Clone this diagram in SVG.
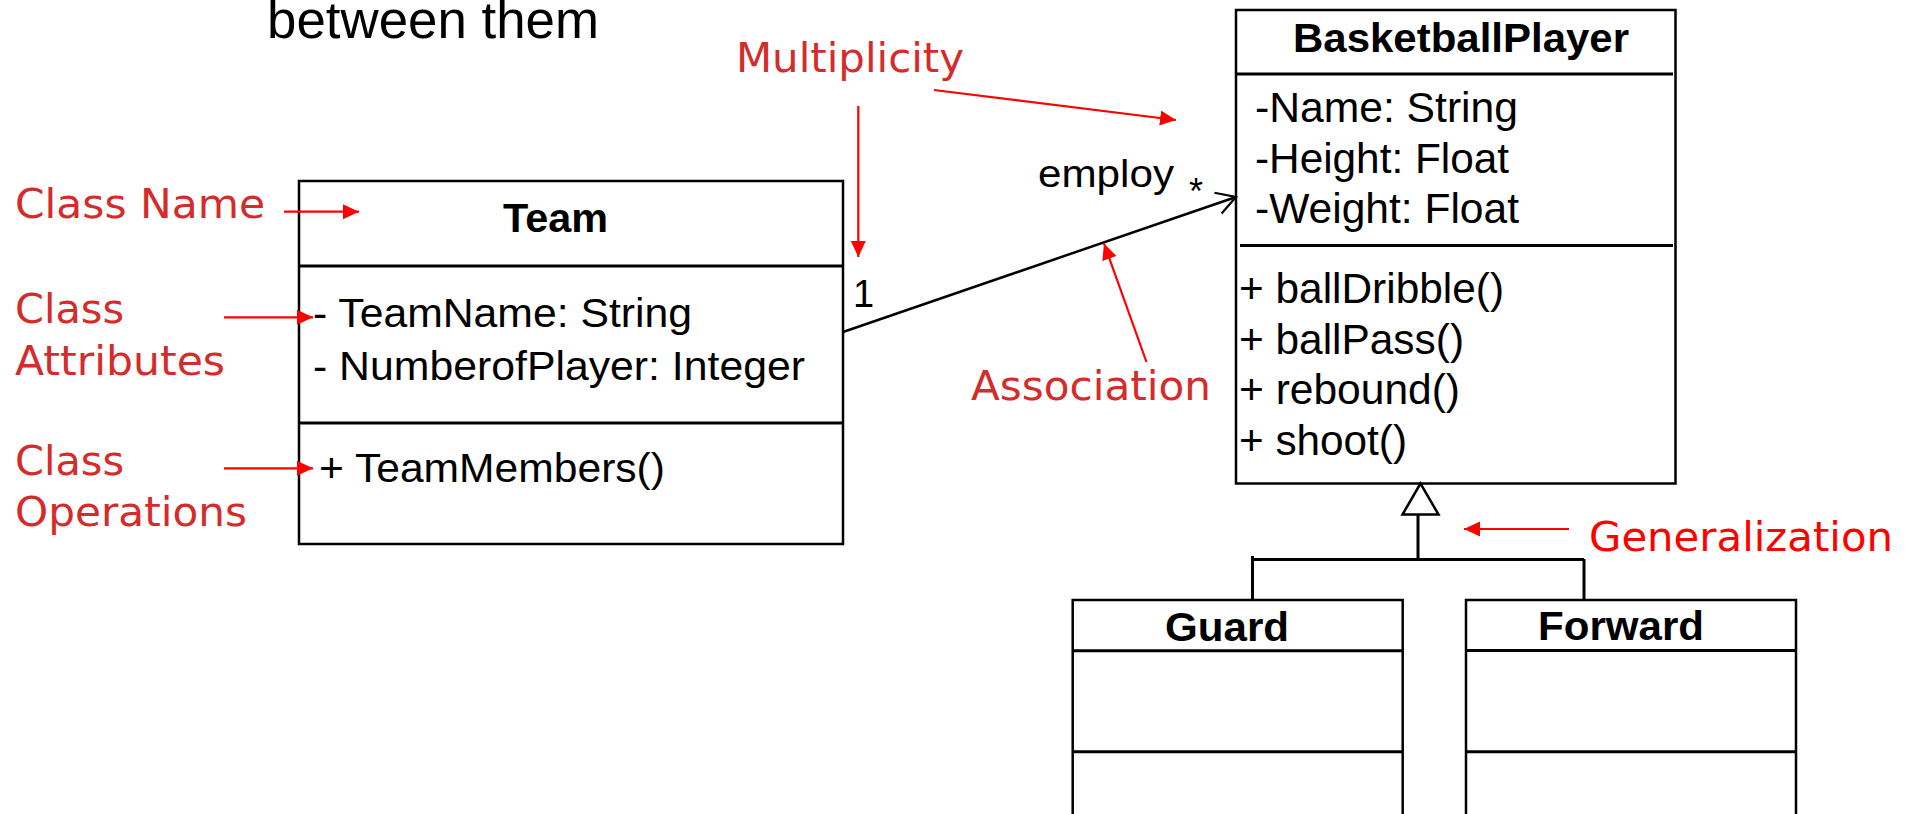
<svg xmlns="http://www.w3.org/2000/svg" width="1912" height="814" viewBox="0 0 1912 814">
<style>
.box{fill:#fff;stroke:#000;stroke-width:2.5}
.div{stroke:#000;stroke-width:3}
.t{font-family:"Liberation Sans",Arial,sans-serif;fill:#000}
.b{font-weight:bold}
.lbl{font-family:"DejaVu Sans",Verdana,sans-serif;fill:#d52b2b;font-size:40px}
.red{stroke:#ff0000;stroke-width:2.2;fill:none}
.con{stroke:#000;fill:none}
</style>
<defs>
<marker id="redHead" markerUnits="userSpaceOnUse" markerWidth="20" markerHeight="18" refX="16" refY="7.5" orient="auto">
<path d="M0,0 L16,7.5 L0,15 z" fill="#ff0000"/>
</marker>
<marker id="openHead" markerUnits="userSpaceOnUse" markerWidth="28" markerHeight="28" refX="22" refY="12" orient="auto">
<path d="M3,1 L22,12 L3,23" fill="none" stroke="#000" stroke-width="2.2"/>
</marker>
</defs>
<rect width="1912" height="814" fill="#fff"/>

<text class="t" x="267" y="38" font-size="51" textLength="332" lengthAdjust="spacingAndGlyphs">between them</text>

<g id="team">
<rect class="box" x="299" y="181" width="544" height="363"/>
<line class="div" x1="299" y1="266" x2="843" y2="266"/>
<line class="div" x1="299" y1="423" x2="843" y2="423"/>
<text class="t b" x="503" y="232" font-size="40" textLength="105" lengthAdjust="spacingAndGlyphs">Team</text>
<text class="t" x="313" y="327" font-size="41" textLength="379" lengthAdjust="spacingAndGlyphs">- TeamName: String</text>
<text class="t" x="313" y="380" font-size="41" textLength="492" lengthAdjust="spacingAndGlyphs">- NumberofPlayer: Integer</text>
<text class="t" x="319" y="482" font-size="41" textLength="346" lengthAdjust="spacingAndGlyphs">+ TeamMembers()</text>
</g>

<g id="basketballPlayer">
<rect class="box" x="1236" y="10" width="439.5" height="473.5"/>
<line class="div" x1="1236" y1="74" x2="1673" y2="74"/>
<line class="div" x1="1240" y1="245.5" x2="1673" y2="245.5"/>
<text class="t b" x="1293" y="52" font-size="40" textLength="336" lengthAdjust="spacingAndGlyphs">BasketballPlayer</text>
<text class="t" x="1255" y="122" font-size="42" textLength="263" lengthAdjust="spacingAndGlyphs">-Name: String</text>
<text class="t" x="1255" y="173" font-size="42" textLength="254" lengthAdjust="spacingAndGlyphs">-Height: Float</text>
<text class="t" x="1255" y="223" font-size="42" textLength="264" lengthAdjust="spacingAndGlyphs">-Weight: Float</text>
<text class="t" x="1239" y="303" font-size="42" textLength="265" lengthAdjust="spacingAndGlyphs">+ ballDribble()</text>
<text class="t" x="1239" y="354" font-size="42" textLength="225" lengthAdjust="spacingAndGlyphs">+ ballPass()</text>
<text class="t" x="1239" y="404" font-size="42" textLength="221" lengthAdjust="spacingAndGlyphs">+ rebound()</text>
<text class="t" x="1239" y="455" font-size="42" textLength="168" lengthAdjust="spacingAndGlyphs">+ shoot()</text>
</g>

<g id="guard">
<rect class="box" x="1072.7" y="600" width="330" height="260"/>
<line class="div" x1="1072.7" y1="650.7" x2="1402.7" y2="650.7"/>
<line class="div" x1="1072.7" y1="751.7" x2="1402.7" y2="751.7"/>
<text class="t b" x="1165" y="641" font-size="40" textLength="124" lengthAdjust="spacingAndGlyphs">Guard</text>
</g>

<g id="forward">
<rect class="box" x="1466" y="600" width="330" height="260"/>
<line class="div" x1="1466" y1="650.5" x2="1796" y2="650.5"/>
<line class="div" x1="1466" y1="751.7" x2="1796" y2="751.7"/>
<text class="t b" x="1538" y="640" font-size="40" textLength="166" lengthAdjust="spacingAndGlyphs">Forward</text>
</g>

<g id="connectors">
<line class="con" x1="843" y1="332" x2="1236" y2="197" stroke-width="2.5" marker-end="url(#openHead)"/>
<text class="t" x="1038" y="187" font-size="39" textLength="136" lengthAdjust="spacingAndGlyphs">employ</text>
<text class="t" x="1189" y="204" font-size="36">*</text>
<text class="t" x="853" y="307" font-size="38">1</text>
<polygon points="1420.5,483.5 1402.5,514.5 1438.5,514.5" fill="#fff" stroke="#000" stroke-width="2.5"/>
<line class="con" x1="1418" y1="514.5" x2="1418" y2="559.5" stroke-width="3"/>
<line class="con" x1="1251" y1="559.5" x2="1584" y2="559.5" stroke-width="3"/>
<line class="con" x1="1252.5" y1="556" x2="1252.5" y2="600" stroke-width="3"/>
<line class="con" x1="1584" y1="559" x2="1584" y2="600" stroke-width="3"/>
</g>

<g id="annotations">
<text class="lbl" x="736" y="72" textLength="228" lengthAdjust="spacingAndGlyphs">Multiplicity</text>
<line class="red" x1="934" y1="90" x2="1176" y2="120" marker-end="url(#redHead)"/>
<line class="red" x1="858.3" y1="106" x2="858.3" y2="257" marker-end="url(#redHead)"/>
<text class="lbl" x="15" y="218" textLength="250" lengthAdjust="spacingAndGlyphs">Class Name</text>
<line class="red" x1="284" y1="211.7" x2="359" y2="211.7" marker-end="url(#redHead)"/>
<text class="lbl" x="15" y="323" textLength="109" lengthAdjust="spacingAndGlyphs">Class</text>
<text class="lbl" x="15" y="375" textLength="210" lengthAdjust="spacingAndGlyphs">Attributes</text>
<line class="red" x1="224" y1="317.3" x2="313" y2="317.3" marker-end="url(#redHead)"/>
<text class="lbl" x="15" y="475" textLength="109" lengthAdjust="spacingAndGlyphs">Class</text>
<text class="lbl" x="15" y="526" textLength="232" lengthAdjust="spacingAndGlyphs">Operations</text>
<line class="red" x1="224" y1="468.3" x2="313" y2="468.3" marker-end="url(#redHead)"/>
<text class="lbl" x="971" y="400" textLength="240" lengthAdjust="spacingAndGlyphs">Association</text>
<line class="red" x1="1146.5" y1="362" x2="1104" y2="243.5" marker-end="url(#redHead)"/>
<text class="lbl" x="1589" y="551" style="fill:#ff0000" textLength="304" lengthAdjust="spacingAndGlyphs">Generalization</text>
<line class="red" x1="1569" y1="529" x2="1464" y2="529" marker-end="url(#redHead)"/>
</g>
</svg>
